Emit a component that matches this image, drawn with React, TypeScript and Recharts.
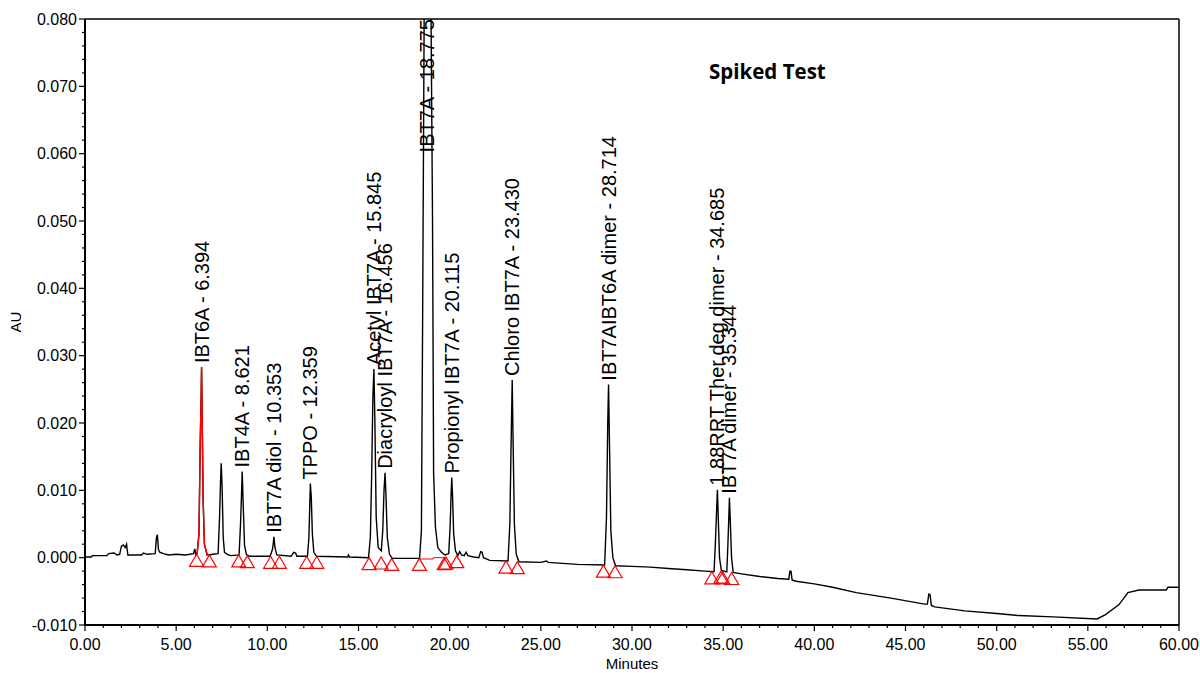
import React from "react";
import { ComposedChart, Line, Scatter, XAxis, YAxis, ReferenceLine } from "recharts";

// chromatogram trace, [minutes, AU]
const trace: [number, number][] = [
  [0.0, 0.0001], [0.35, 0.0001], [0.4, 0.0003], [1.2, 0.0003], [1.3, 0.0006], [1.6, 0.0007],
  [1.75, 0.0004], [1.9, 0.0005], [2.0, 0.0017], [2.1, 0.0019], [2.2, 0.0015], [2.28, 0.002],
  [2.35, 0.0004], [3.1, 0.0004], [3.2, 0.0007], [3.4, 0.0005], [3.85, 0.0006], [3.92, 0.003],
  [3.97, 0.0034], [4.03, 0.0012], [4.1, 0.0008], [4.3, 0.0006], [4.6, 0.0004], [5.0, 0.0005],
  [5.5, 0.0004], [5.95, 0.0006], [6.02, 0.0013], [6.08, 0.0004],
  [6.15, 0.0006], [6.25, 0.0035], [6.32, 0.017], [6.37, 0.024], [6.394, 0.0283], [6.43, 0.02],
  [6.48, 0.0085], [6.55, 0.002], [6.7, 0.0004], [6.82, 0.0004],
  [7.0, 0.0005], [7.3, 0.0006], [7.38, 0.006], [7.43, 0.011], [7.47, 0.014], [7.52, 0.0105],
  [7.58, 0.003], [7.65, 0.0008], [7.8, 0.0005], [8.0, 0.0003], [8.45, 0.0004], [8.53, 0.005],
  [8.58, 0.009], [8.621, 0.0128], [8.67, 0.0085], [8.75, 0.0018], [8.85, 0.0005], [9.0, 0.0002],
  [10.15, 0.0002], [10.28, 0.0012], [10.33, 0.0022], [10.36, 0.0031], [10.42, 0.0015],
  [10.52, 0.0004], [11.3, 0.0002], [11.45, 0.0008], [11.55, 0.0007], [11.62, 0.0002],
  [12.2, 0.0002], [12.28, 0.003], [12.33, 0.008], [12.359, 0.011], [12.41, 0.009],
  [12.47, 0.0035], [12.55, 0.0008], [12.7, 0.0002], [14.4, 0.0001], [14.45, 0.0004],
  [14.5, 0.0001], [15.55, 0.0], [15.65, 0.003], [15.72, 0.012], [15.79, 0.024], [15.845, 0.028],
  [15.9, 0.02], [15.97, 0.006], [16.08, 0.0015], [16.25, 0.001], [16.33, 0.004], [16.4, 0.01],
  [16.456, 0.0126], [16.51, 0.009], [16.58, 0.003], [16.7, 0.0005], [16.85, -0.0001],
  [17.5, -0.0001], [18.35, -0.0001], [18.45, 0.004], [18.52, 0.037], [18.6, 0.08],
  [18.78, 0.1], [18.98, 0.08], [19.06, 0.05], [19.12, 0.0125], [19.22, 0.0045], [19.35, 0.0015],
  [19.55, 0.0008], [19.75, 0.0004], [19.95, 0.0006], [20.03, 0.005], [20.08, 0.0095],
  [20.115, 0.0119], [20.16, 0.009], [20.22, 0.0035], [20.32, 0.001], [20.45, 0.0003],
  [20.55, 0.0009], [20.65, 0.0004], [20.8, 0.0003], [20.9, 0.0008], [21.0, 0.0003],
  [21.3, 0.0001], [21.6, 0.0], [21.7, 0.0009], [21.78, 0.0008], [21.85, 0.0], [22.2, -0.0004],
  [23.2, -0.0005], [23.3, 0.005], [23.37, 0.017], [23.43, 0.0264], [23.48, 0.017],
  [23.55, 0.005], [23.65, 0.0005], [23.8, -0.0006], [25.0, -0.0007], [25.3, -0.0005],
  [25.4, -0.0007], [27.0, -0.001], [28.5, -0.0011], [28.6, 0.006], [28.67, 0.02],
  [28.714, 0.0257], [28.77, 0.016], [28.84, 0.004], [28.95, 0.0], [29.1, -0.0012],
  [30.0, -0.0013], [31.0, -0.0014], [32.0, -0.0016], [33.0, -0.0018], [34.0, -0.002],
  [34.5, -0.0021], [34.57, 0.002], [34.64, 0.007], [34.685, 0.0101], [34.73, 0.006],
  [34.8, 0.0], [34.9, -0.0019], [35.2, -0.0021], [35.26, 0.002], [35.31, 0.006],
  [35.344, 0.0089], [35.39, 0.0055], [35.46, 0.0], [35.55, -0.0022], [36.0, -0.0024],
  [37.0, -0.0028], [38.0, -0.0031], [38.6, -0.0032], [38.66, -0.002], [38.72, -0.002],
  [38.78, -0.0033], [39.0, -0.0035], [40.0, -0.0039], [41.0, -0.0044], [42.3, -0.0052],
  [44.2, -0.006], [46.05, -0.0069], [46.2, -0.0069], [46.28, -0.0054], [46.35, -0.0055],
  [46.42, -0.0071], [46.6, -0.0073], [48.25, -0.0079], [50.0, -0.0083], [51.2, -0.0086],
  [53.1, -0.0088], [55.5, -0.0091], [55.95, -0.0085], [56.7, -0.007], [57.2, -0.0052],
  [57.8, -0.0048], [59.3, -0.0048], [59.4, -0.0044], [60.0, -0.0044],
];

// first labelled peak is drawn in red between its integration marks
const redPeakStart = 6.12;
const redPeakEnd = 6.82;

// red drawn baseline under the main peak
const mainPeakBaseline: [number, number][] = [
  [18.34, -0.0002], [19.1, -0.0002], [19.1, 0.0], [19.75, 0.0],
];

const peakNames = [
  "IBT6A - 6.394",
  "IBT4A - 8.621",
  "IBT7A diol - 10.353",
  "TPPO - 12.359",
  "Acetyl IBT7A - 15.845",
  "Diacryloyl IBT7A - 16.456",
  "IBT7A - 18.775",
  "Propionyl IBT7A - 20.115",
  "Chloro IBT7A - 23.430",
  "IBT7AIBT6A dimer - 28.714",
  "1.88RRT Ther.deg dimer - 34.685",
  "IBT7A dimer - 35.344",
];
const peakTimes = [6.394, 8.621, 10.353, 12.359, 15.845, 16.456, 18.775, 20.115, 23.43, 28.714, 34.685, 35.344];
const peakHeights = [0.0283, 0.0128, 0.0031, 0.011, 0.028, 0.0126, 0.1, 0.0119, 0.0264, 0.0257, 0.0101, 0.0089];

// integration marks (red triangles)
const markTimes = [6.12, 6.82, 8.43, 8.9, 10.18, 10.66, 12.16, 12.71, 15.58, 16.24, 16.82, 18.34, 19.7, 19.8, 20.39, 23.09, 23.71, 28.43, 29.07, 34.38, 34.88, 34.98, 35.47];
const markLevels = [0.0005, 0.0004, 0.0004, 0.0003, 0.0002, 0.0002, 0.0002, 0.0002, 0.0, 0.0001, -0.0001, -0.0001, 0.0, 0.0001, 0.0003, -0.0005, -0.0006, -0.0011, -0.0012, -0.0021, -0.002, -0.0021, -0.0022];

const Y_MIN = -0.01;
const Y_MAX = 0.08;
const yTicks = Array.from({ length: 46 }, (_, i) => Number((Y_MIN + i * 0.002).toFixed(3)));
const xTicks = Array.from({ length: 61 }, (_, i) => i);

const FONT = "'Liberation Sans', Arial, sans-serif";

const traceData = trace.map(([t, v]) => ({ t, v }));
const redData = traceData.filter((d) => d.t >= redPeakStart && d.t <= redPeakEnd);
const baselineData = mainPeakBaseline.map(([t, v]) => ({ t, v }));
const labelData = peakTimes.map((t, i) => ({
  t,
  v: Math.min(peakHeights[i], Y_MAX),
  name: peakNames[i],
  top: peakHeights[i] > Y_MAX,
}));
const markData = markTimes.map((t, i) => ({ t, v: markLevels[i] }));

function YTick(props: any) {
  const { x, y, payload } = props;
  const v = payload.value;
  const major = Math.abs(v * 100 - Math.round(v * 100)) < 1e-6;
  return (
    <g>
      <line x1={x - (major ? 6 : 3)} x2={x} y1={y} y2={y} stroke="#000" strokeWidth={1.2} />
      {major && (
        <text x={x - 8} y={y} dy="0.35em" textAnchor="end" fontSize={16} fontFamily={FONT} fill="#000">
          {v.toFixed(3)}
        </text>
      )}
    </g>
  );
}

function XTick(props: any) {
  const { x, y, payload } = props;
  const v = payload.value;
  const major = v % 5 === 0;
  return (
    <g>
      <line x1={x} x2={x} y1={y} y2={y + (major ? 6 : 3)} stroke="#000" strokeWidth={1.2} />
      {major && (
        <text x={x} y={y + 19} dy="0.35em" textAnchor="middle" fontSize={16} fontFamily={FONT} fill="#000">
          {v.toFixed(2)}
        </text>
      )}
    </g>
  );
}

function PeakLabel(props: any) {
  const { cx, cy, payload } = props;
  const y = payload.top ? cy : cy - 4;
  return (
    <text
      x={cx}
      y={y}
      dy="0.35em"
      transform={`rotate(-90 ${cx} ${y})`}
      textAnchor={payload.top ? "end" : "start"}
      fontSize={20}
      fontFamily={FONT}
      fill="#000"
    >
      {payload.name}
    </text>
  );
}

function Triangle(props: any) {
  const { cx, cy } = props;
  return (
    <path
      d={`M${cx},${cy} L${cx + 7},${cy + 12} L${cx - 7},${cy + 12} Z`}
      fill="none"
      stroke="#ff0000"
      strokeWidth={1.2}
    />
  );
}

export default function App() {
  return (
    <div style={{ position: "absolute", left: 0, top: 0, width: 1200, height: 673, background: "#fff" }}>
      <ComposedChart width={1200} height={673} margin={{ top: 19, right: 21, bottom: 0, left: 0 }}>
        <XAxis
          type="number"
          dataKey="t"
          domain={[0, 60]}
          ticks={xTicks}
          interval={0}
          allowDataOverflow
          height={48}
          tickSize={0}
          tickMargin={0}
          tick={<XTick />}
          axisLine={{ stroke: "#000", strokeWidth: 2 }}
        />
        <YAxis
          type="number"
          domain={[Y_MIN, Y_MAX]}
          ticks={yTicks}
          interval={0}
          allowDataOverflow
          width={85}
          tickSize={0}
          tickMargin={0}
          tick={<YTick />}
          axisLine={{ stroke: "#000", strokeWidth: 2 }}
        />
        <ReferenceLine y={Y_MAX} stroke="#000" strokeWidth={1.5} />
        <ReferenceLine x={60} stroke="#000" strokeWidth={1.5} />
        <Line data={traceData} dataKey="v" type="linear" stroke="#000" strokeWidth={1.4} dot={false} isAnimationActive={false} />
        <Line data={redData} dataKey="v" type="linear" stroke="#ff0000" strokeWidth={1.4} dot={false} isAnimationActive={false} />
        <Line data={baselineData} dataKey="v" type="linear" stroke="#ff0000" strokeWidth={1} dot={false} isAnimationActive={false} />
        <Scatter data={markData} dataKey="v" shape={<Triangle />} isAnimationActive={false} />
        <Scatter data={labelData} dataKey="v" shape={<PeakLabel />} isAnimationActive={false} />
      </ComposedChart>
      <div
        style={{
          position: "absolute", left: 15, top: 322, transform: "translate(-50%, -50%) rotate(-90deg)",
          fontFamily: FONT, fontSize: 15, color: "#000",
        }}
      >
        AU
      </div>
      <div
        style={{
          position: "absolute", left: 632, top: 663, transform: "translate(-50%, -50%)",
          fontFamily: FONT, fontSize: 15, color: "#000",
        }}
      >
        Minutes
      </div>
      <div
        style={{
          position: "absolute", left: 709, top: 57, fontFamily: "'Open Sans', sans-serif",
          fontWeight: 700, fontSize: 20.5, color: "#000",
        }}
      >
        Spiked Test
      </div>
    </div>
  );
}
